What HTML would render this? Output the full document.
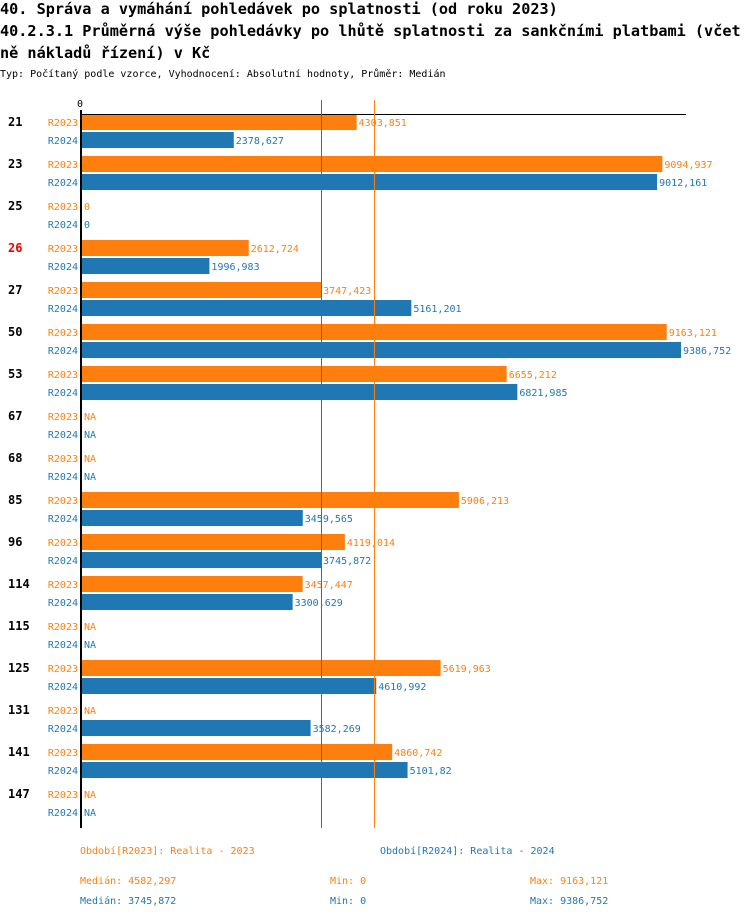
<!DOCTYPE html>
<html><head><meta charset="utf-8"><style>
body{margin:0;background:#fff;width:750px;height:918px;overflow:hidden}
svg text{font-family:"DejaVu Sans Mono","Liberation Mono",monospace}
</style></head><body>
<svg id="c" width="750" height="918" xmlns="http://www.w3.org/2000/svg">
<text x="0" y="14" font-size="15.2" font-weight="bold">40. Správa a vymáhání pohledávek po splatnosti (od roku 2023)</text>
<text x="0" y="36" font-size="15.2" font-weight="bold">40.2.3.1 Průměrná výše pohledávky po lhůtě splatnosti za sankčními platbami (včet</text>
<text x="0" y="58" font-size="15.2" font-weight="bold">ně nákladů řízení) v Kč</text>
<text x="0" y="77" font-size="10">Typ: Počítaný podle vzorce, Vyhodnocení: Absolutní hodnoty, Průměr: Medián</text>
<g id="plot"></g>
</svg>
<script>
const categories=["21","23","25","26","27","50","53","67","68","85","96","114","115","125","131","141","147"];
const highlight=["26"];
const r2023=[4303.851,9094.937,0,2612.724,3747.423,9163.121,6655.212,null,null,5906.213,4119.014,3457.447,null,5619.963,null,4860.742,null];
const r2024=[2378.627,9012.161,0,1996.983,5161.201,9386.752,6821.985,null,null,3459.565,3745.872,3300.629,null,4610.992,3582.269,5101.82,null];
const median2023=4582.297, median2024=3745.872;
const max2023=9163.121, max2024=9386.752;
const OR="#ff7f0e",BL="#1f77b4";
const x=v=>82+v*(681-82)/9386.752;
const yb=i=>114+42*i;
const fmt=v=>v===null?"NA":String(v).replace(".",",");
const svg=document.getElementById('plot');
const NS="http://www.w3.org/2000/svg";
function mk(t,a,txt){const e=document.createElementNS(NS,t);for(const k in a)e.setAttribute(k,a[k]);if(txt!==undefined)e.textContent=txt;svg.appendChild(e);return e;}
let e;
e=mk('text',{x:80,y:107,'font-size':10,'text-anchor':'middle'},'0');


categories.forEach((c,i)=>{
  const b=yb(i);
  e=mk('text',{x:8,y:b+12,'font-size':12,'font-weight':'bold',fill:highlight.includes(c)?'#e00':'#000'},c);
  
  
  [[r2023,OR,'R2023',0],[r2024,BL,'R2024',18]].forEach(([arr,col,nm,off])=>{
    const v=arr[i];
    e=mk('text',{x:78,y:b+off+12,'font-size':10,fill:col,'text-anchor':'end'},nm);
    
    
    let end=82;
    if(v!==null&&v>0){
      e=mk('rect',{x:82,y:b+off,width:x(v)-82,height:16,fill:col});
      
      
      end=x(v);
    }
    e=mk('text',{x:end+2,y:b+off+12,'font-size':10,fill:col},fmt(v));
    
    
  });
});
e=mk('line',{x1:80,y1:114.5,x2:686,y2:114.5,stroke:'#000','stroke-width':1});


e=mk('line',{x1:Math.round(x(median2024))+0.5,y1:100,x2:Math.round(x(median2024))+0.5,y2:828,stroke:BL,'stroke-width':1});


e=mk('line',{x1:Math.round(x(median2023))+0.5,y1:100,x2:Math.round(x(median2023))+0.5,y2:828,stroke:OR,'stroke-width':1});


e=mk('line',{x1:81,y1:110,x2:81,y2:828,stroke:'#000','stroke-width':2});


const leg=[[80,854,OR,'Období[R2023]: Realita - 2023'],[380,854,BL,'Období[R2024]: Realita - 2024'],
[80,884,OR,'Medián: '+fmt(median2023)],[330,884,OR,'Min: 0'],[530,884,OR,'Max: '+fmt(max2023)],
[80,904,BL,'Medián: '+fmt(median2024)],[330,904,BL,'Min: 0'],[530,904,BL,'Max: '+fmt(max2024)]];
leg.forEach(([lx,ly,col,t])=>{
  e=mk('text',{x:lx,y:ly,'font-size':10,fill:col},t);
  
  
});
</script>
</body></html>
